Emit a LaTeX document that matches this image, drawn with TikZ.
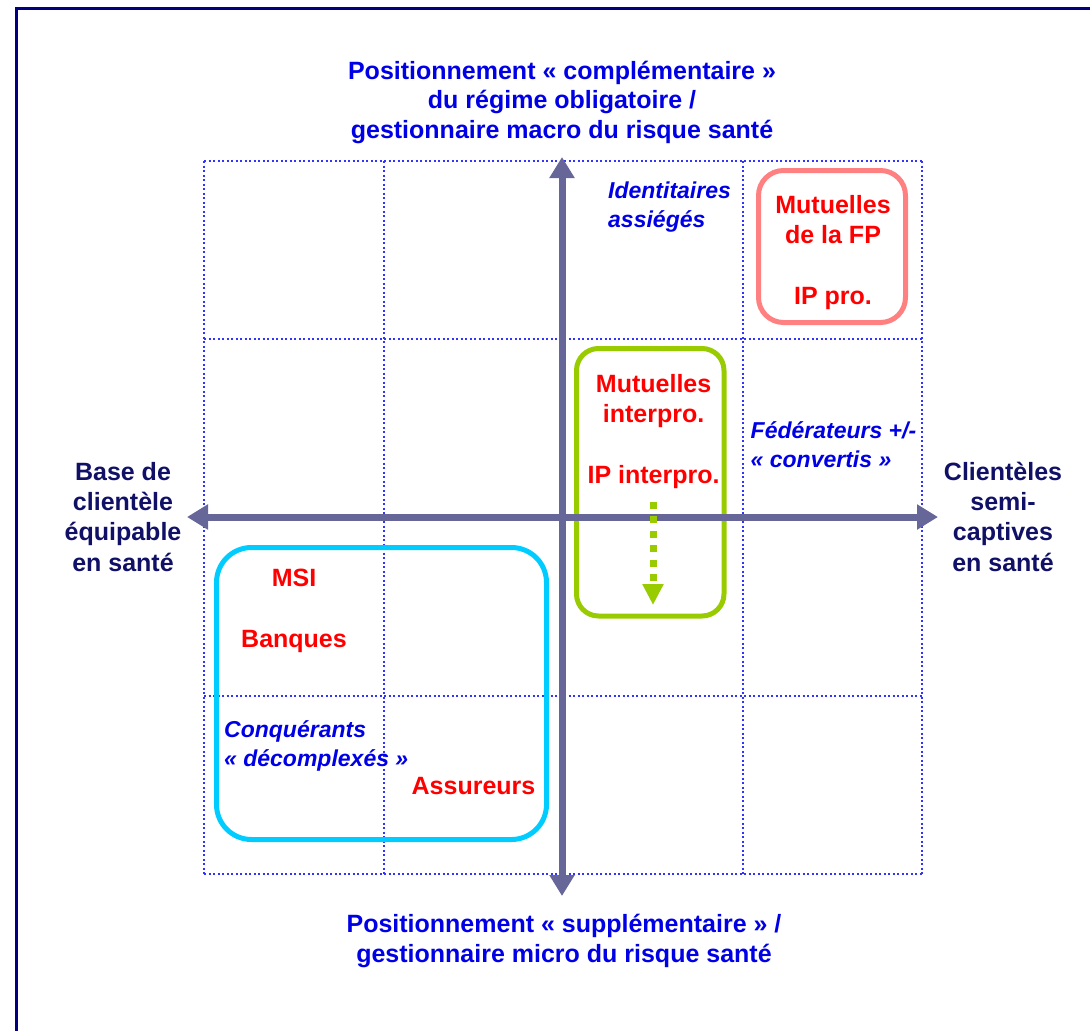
\documentclass[tikz,border=0pt]{standalone}
\usepackage{fontspec}
\setmainfont{Liberation Sans}
\usepackage{xcolor}
\usetikzlibrary{arrows.meta}

\definecolor{framenavy}{HTML}{000080}
\definecolor{axisgray}{HTML}{666699}
\definecolor{gridblue}{HTML}{3333FF}
\definecolor{labelblue}{HTML}{0000E6}
\definecolor{labelnavy}{HTML}{101066}
\definecolor{actorred}{HTML}{FF0000}
\definecolor{boxpink}{HTML}{FF8080}
\definecolor{boxgreen}{HTML}{99CC00}
\definecolor{boxcyan}{HTML}{00CCFF}

\begin{document}
\begin{tikzpicture}[x=1pt,y=-1pt,
    gridline/.style={gridblue,line width=1.4pt,dash pattern=on 2pt off 2.5pt},
    axisline/.style={axisgray,line width=7pt,{Triangle[length=21pt,width=24pt]}-{Triangle[length=21pt,width=24pt]}},
    groupbox/.style={line width=5pt,rounded corners=#1},
    axislabel/.style={labelblue,font=\bfseries\fontsize{25}{29.5}\selectfont,align=center,anchor=base},
    sidelabel/.style={labelnavy,font=\bfseries\fontsize{25}{30.3}\selectfont,align=center,anchor=base},
    actor/.style={actorred,font=\bfseries\fontsize{25}{30}\selectfont,align=center,anchor=base},
    family/.style={labelblue,font=\bfseries\itshape\fontsize{23}{28.5}\selectfont,align=left,anchor=base west}]
 	\tikzstyle{every node}+=[inner sep=0pt]
 	\useasboundingbox (0,0) rectangle (1090,1031);
 	\clip (0,0) rectangle (1090,1031);
 	\draw [framenavy,line width=3pt] (16.5,8.5) rectangle (1110,1050);
 	% quadrant grid
 	\foreach \gx in {204,384,563,743,922}
 	  \draw [gridline] (\gx,161) -- (\gx,874);
 	\foreach \gy in {161,339,517,696,874}
 	  \draw [gridline] (204,\gy) -- (922,\gy);
 	% groups
 	\draw [groupbox=25pt,boxpink] (758.5,170.5) rectangle (905.5,322.5);
 	\draw [groupbox=22pt,boxgreen] (576.5,348.5) rectangle (724,616);
 	\draw [groupbox=35pt,boxcyan] (216.5,547.5) rectangle (546.5,839.5);
 	% axes
 	\coordinate (west) at (187,517);
 	\coordinate (east) at (938,517);
 	\coordinate (north) at (562,157);
 	\coordinate (south) at (562,896);
 	\draw [axisline] (west) -- (east);
 	\draw [axisline] (north) -- (south);
 	\coordinate (driftstart) at (653,501.5);
 	\coordinate (driftend) at (653,605);
 	\draw [boxgreen,line width=7pt,dash pattern=on 7pt off 7.5pt,-{Triangle[length=21pt,width=20pt]}] (driftstart) -- (driftend);
 	% axis labels (anchored on the last line)
 	\node (macro) [axislabel] at (562,138) {Positionnement « complémentaire »\\du régime obligatoire /\\gestionnaire macro du risque santé};
 	\node (micro) [axislabel] at (564,962) {Positionnement « supplémentaire » /\\gestionnaire micro du risque santé};
 	\node (equipable) [sidelabel] at (123,571) {Base de\\clientèle\\équipable\\en santé};
 	\node (captive) [sidelabel] at (1003,571) {Clientèles\\semi-\\captives\\en santé};
 	% actors
 	\node (fp) [actor] at (833,304) {Mutuelles\\de la FP\\[31pt]IP pro.};
 	\node (interpro) [actor] at (653.6,483) {Mutuelles\\interpro.\\[31pt]IP interpro.};
 	\node (msi) [actor] at (294,586) {MSI};
 	\node (banques) [actor] at (294,647) {Banques};
 	\node (assureurs) [actor] at (473.5,794.6) {Assureurs};
 	% families
 	\node (identitaires) [family] at (608,227) {Identitaires\\assiégés};
 	\node (federateurs) [family] at (750.5,467) {Fédérateurs +/-\\« convertis »};
 	\node (conquerants) [family] at (224,766) {Conquérants\\« décomplexés »};
\end{tikzpicture}
\end{document}
